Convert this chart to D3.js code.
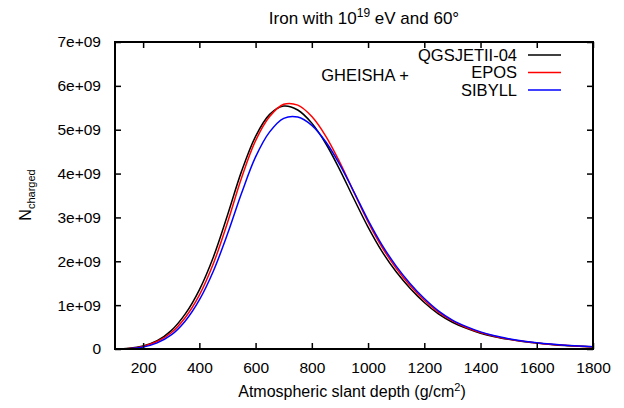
<!DOCTYPE html>
<html>
<head>
<meta charset="utf-8">
<script src="https://cdn.jsdelivr.net/npm/d3@7"></script>
<style>
  body { margin: 0; background: #fff; }
  svg { font-family: "Liberation Sans", Arial, sans-serif; }
</style>
</head>
<body>
<div class="chart"></div>
<script>
var depth = [100, 150, 200, 250, 300, 350, 400, 450, 500, 550, 600, 650, 700, 750, 800, 850, 900,
    950, 1000, 1050, 1100, 1150, 1200, 1250, 1300, 1350, 1400, 1450, 1500, 1550, 1600, 1650, 1700, 1750, 1800];

// N charged, in units of 1e9
var qgsjet = [0, 0.015, 0.07, 0.19, 0.42, 0.80, 1.35, 2.10, 3.05, 4.05, 4.85, 5.35, 5.54, 5.45, 5.15,
    4.68, 4.08, 3.42, 2.78, 2.22, 1.76, 1.38, 1.06, 0.80, 0.61, 0.47, 0.36, 0.28, 0.22, 0.17, 0.135, 0.105, 0.08, 0.062, 0.048];
var epos = [0, 0.012, 0.06, 0.17, 0.37, 0.72, 1.23, 1.95, 2.88, 3.90, 4.75, 5.30, 5.58, 5.56, 5.30,
    4.85, 4.25, 3.57, 2.90, 2.32, 1.84, 1.44, 1.11, 0.84, 0.64, 0.49, 0.375, 0.29, 0.225, 0.175, 0.138, 0.108, 0.083, 0.064, 0.05];
var sibyll = [0, 0.008, 0.045, 0.14, 0.32, 0.64, 1.12, 1.78, 2.62, 3.55, 4.38, 4.95, 5.26, 5.29, 5.10,
    4.72, 4.20, 3.58, 2.94, 2.37, 1.89, 1.49, 1.15, 0.87, 0.66, 0.51, 0.39, 0.30, 0.235, 0.182, 0.143, 0.112, 0.087, 0.068, 0.053];

var xTicks = [200, 400, 600, 800, 1000, 1200, 1400, 1600, 1800];
var yTicks = [0, 1, 2, 3, 4, 5, 6, 7];
var yTickLabels = ['0', '1e+09', '2e+09', '3e+09', '4e+09', '5e+09', '6e+09', '7e+09'];

var seriesNames = ['QGSJETII-04', 'EPOS', 'SIBYLL'];
var seriesColors = ['#000000', '#ff0000', '#0000ff'];
var seriesValues = [qgsjet, epos, sibyll];

var width = 624, height = 408;
var margin = {left: 115, right: 31, top: 42, bottom: 59};
var fontSize = 15.5, supSize = 11;

var svg = d3.select('.chart')
    .append('svg')
    .attr('width', width)
    .attr('height', height);

var x = d3.scaleLinear().domain([100, 1800]).range([margin.left, width - margin.right]);
var y = d3.scaleLinear().domain([0, 7]).range([height - margin.bottom, margin.top]);

var tickLen = 6;

// curves
var line = d3.line()
    .x(function(d) { return x(d[0]); })
    .y(function(d) { return y(d[1]); })
    .curve(d3.curveCatmullRom);

seriesValues.forEach(function(vals, i) {
    svg.append('path')
        .datum(depth.map(function(dd, j) { return [dd, vals[j]]; }))
        .attr('fill', 'none')
        .attr('stroke', seriesColors[i])
        .attr('stroke-width', 1.5)
        .attr('d', line);
});

// axes (inward ticks, mirrored)
var axBottom = svg.append('g')
    .attr('transform', 'translate(0,' + y(0) + ')')
    .call(d3.axisBottom(x).tickValues(xTicks).tickSizeInner(-tickLen).tickSizeOuter(0)
        .tickPadding(13).tickFormat(d3.format('d')));
var axTop = svg.append('g')
    .attr('transform', 'translate(0,' + y(7) + ')')
    .call(d3.axisTop(x).tickValues(xTicks).tickSizeInner(-tickLen).tickSizeOuter(0).tickFormat(''));
var axLeft = svg.append('g')
    .attr('transform', 'translate(' + x(100) + ',0)')
    .call(d3.axisLeft(y).tickValues(yTicks).tickSizeInner(-tickLen).tickSizeOuter(0).tickPadding(14)
        .tickFormat(function(d, i) { return yTickLabels[i]; }));
var axRight = svg.append('g')
    .attr('transform', 'translate(' + x(1800) + ',0)')
    .call(d3.axisRight(y).tickValues(yTicks).tickSizeInner(-tickLen).tickSizeOuter(0).tickFormat(''));

[axBottom, axTop, axLeft, axRight].forEach(function(g) {
    g.select('.domain').remove();
    g.selectAll('line').attr('stroke', '#000').attr('stroke-width', 1.5);
    g.selectAll('text').attr('font-size', fontSize).attr('fill', '#000')
        .attr('font-family', '"Liberation Sans", Arial, sans-serif');
});

svg.append('rect')
    .attr('x', x(100))
    .attr('y', y(7))
    .attr('width', x(1800) - x(100))
    .attr('height', y(0) - y(7))
    .attr('fill', 'none')
    .attr('stroke', '#000')
    .attr('stroke-width', 2);

// title
var title = svg.append('text')
    .attr('x', 364)
    .attr('y', 24)
    .attr('text-anchor', 'middle')
    .attr('font-size', 17);
title.append('tspan').text('Iron with 10');
title.append('tspan').attr('dy', -7).attr('font-size', 12).text('19');
title.append('tspan').attr('dy', 7).text(' eV and 60°');

// x label
var xl = svg.append('text')
    .attr('x', 352)
    .attr('y', 397)
    .attr('text-anchor', 'middle')
    .attr('font-size', 16);
xl.append('tspan').text('Atmospheric slant depth (g/cm');
xl.append('tspan').attr('dy', -6).attr('font-size', supSize).text('2');
xl.append('tspan').attr('dy', 6).text(')');

// y label
var yl = svg.append('text')
    .attr('transform', 'translate(31,195) rotate(-90)')
    .attr('text-anchor', 'middle')
    .attr('font-size', 16);
yl.append('tspan').text('N');
yl.append('tspan').attr('dy', 4).attr('font-size', supSize).text('charged');

// legend
svg.append('text')
    .attr('x', 365)
    .attr('y', 81)
    .attr('text-anchor', 'middle')
    .attr('font-size', 16.5)
    .text('GHEISHA +');

var legend = svg.selectAll('.legend').data(seriesNames).enter()
    .append('g')
    .attr('class', 'legend')
    .attr('transform', function(d, i) { return 'translate(0,' + (55 + i * 17.5) + ')'; });
legend.append('text')
    .attr('x', 517)
    .attr('y', 5.5)
    .attr('text-anchor', 'end')
    .attr('font-size', 16.5)
    .text(function(d) { return d; });
legend.append('line')
    .attr('x1', 528)
    .attr('x2', 561)
    .attr('stroke', function(d, i) { return seriesColors[i]; })
    .attr('stroke-width', 1.5);
</script>
</body>
</html>
